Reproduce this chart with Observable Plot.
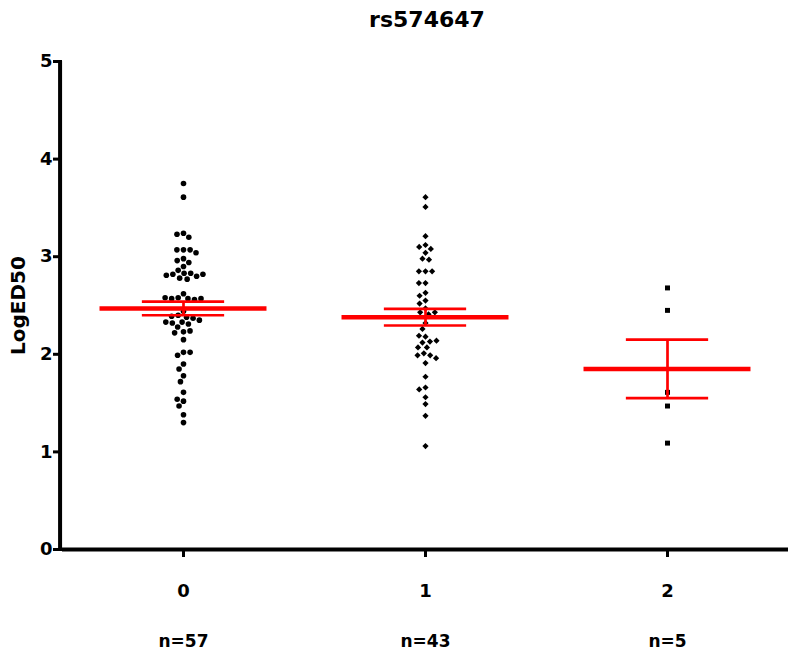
<!DOCTYPE html>
<html>
<head>
<meta charset="utf-8">
<script src="https://cdn.jsdelivr.net/npm/d3@7"></script>
<script src="https://cdn.jsdelivr.net/npm/@observablehq/plot@0.6"></script>
<style>
  html, body { margin: 0; padding: 0; background: #fff; }
  #title { width: 800px; height: 40px; line-height: 40px; box-sizing: border-box; padding-left: 54px;
           text-align: center; font-family: "DejaVu Sans", sans-serif; font-weight: bold; font-size: 22px; color: #000; }
</style>
</head>
<body>
<div id="title">rs574647</div>
<div id="chart"></div>
<script>
const groupLabels = ["0", "1", "2"];
const nLabels = ["n=57", "n=43", "n=5"];
const yTicks = [0, 1, 2, 3, 4, 5];

// LogED50 values per genotype group
const values0 = [3.75, 3.61, 3.24, 3.23, 3.20, 3.07, 3.07, 3.07, 3.04, 2.98, 2.96, 2.94, 2.90, 2.86,
  2.83, 2.83, 2.82, 2.78, 2.77, 2.80, 2.81, 2.82, 2.62, 2.58, 2.57, 2.56, 2.57, 2.57, 2.58,
  2.44, 2.40, 2.38, 2.37, 2.39, 2.33, 2.31, 2.28, 2.35, 2.32, 2.33, 2.23, 2.24, 2.22, 2.15,
  2.02, 1.99, 2.02, 1.90, 1.85, 1.78, 1.72, 1.61, 1.52, 1.54, 1.47, 1.38, 1.30];
const values1 = [3.61, 3.51, 3.21, 3.12, 3.10, 3.08, 3.04, 2.98, 2.97, 2.85, 2.85, 2.85, 2.73, 2.73,
  2.63, 2.60, 2.55, 2.52, 2.47, 2.43, 2.41, 2.43, 2.32, 2.26, 2.18, 2.19, 2.13, 2.12, 2.14,
  2.07, 2.07, 2.01, 1.99, 1.99, 1.96, 1.91, 1.77, 1.66, 1.64, 1.56, 1.49, 1.37, 1.06];
const values2 = [2.68, 2.45, 1.61, 1.47, 1.09];

// mean and SEM per group
const means = [2.47, 2.38, 1.85];
const sems = [0.07, 0.085, 0.30];

const allValues = [values0, values1, values2];
const points = allValues.flatMap((vals, i) => vals.map(v => ({g: groupLabels[i], v})));
const summary = groupLabels.map((g, i) => ({g, mean: means[i], lo: means[i] - sems[i], hi: means[i] + sems[i]}));

const chart = Plot.plot({
  width: 800,
  height: 619,
  marginTop: 21,
  marginBottom: 110,
  marginLeft: 62,
  marginRight: 12,
  style: {fontFamily: "'DejaVu Sans', sans-serif", fontWeight: "bold", color: "black", background: "white"},
  fx: {domain: groupLabels, padding: 0, label: null},
  x: {domain: [-1, 1], axis: null},
  y: {domain: [0, 5], label: null},
  symbol: {domain: groupLabels, range: ["circle", "diamond2", "square"]},
  marks: [
    Plot.axisY({ticks: yTicks, tickFormat: d3.format("d"), tickSize: 9, tickPadding: 1, strokeWidth: 3, fontSize: 18, label: null}),
    Plot.axisFx({anchor: "bottom", tickSize: 8, tickPadding: 27, strokeWidth: 3, fontSize: 18, label: null}),
    Plot.axisFx({anchor: "bottom", tickSize: 0, tickPadding: 85, fontSize: 17, label: null,
                 tickFormat: d => nLabels[groupLabels.indexOf(d)]}),
    Plot.text([groupLabels[0]], {fx: d => d, text: () => "LogED50", frameAnchor: "left", textAnchor: "middle",
                                 rotate: -90, dx: -44, fontSize: 20, fontWeight: "bold"}),
    Plot.ruleY([0], {strokeWidth: 4}),
    Plot.ruleX([groupLabels[0]], {fx: d => d, x: -1.02, y1: 0, y2: 5, strokeWidth: 4}),
    Plot.dot(points, Plot.dodgeX("middle", {fx: "g", y: "v", r: 2.8, padding: 3.4, symbol: "g", fill: "black", stroke: "none"})),
    Plot.ruleY(summary, {fx: "g", y: "mean", x1: -0.69, x2: 0.69, stroke: "#ff0000", strokeWidth: 4.5}),
    Plot.ruleY(summary, {fx: "g", y: "hi", x1: -0.34, x2: 0.34, stroke: "#ff0000", strokeWidth: 2.7}),
    Plot.ruleY(summary, {fx: "g", y: "lo", x1: -0.34, x2: 0.34, stroke: "#ff0000", strokeWidth: 2.7}),
    Plot.ruleX(summary, {fx: "g", x: 0, y1: "lo", y2: "hi", stroke: "#ff0000", strokeWidth: 2.7})
  ]
});
document.getElementById("chart").appendChild(chart);
</script>
</body>
</html>
